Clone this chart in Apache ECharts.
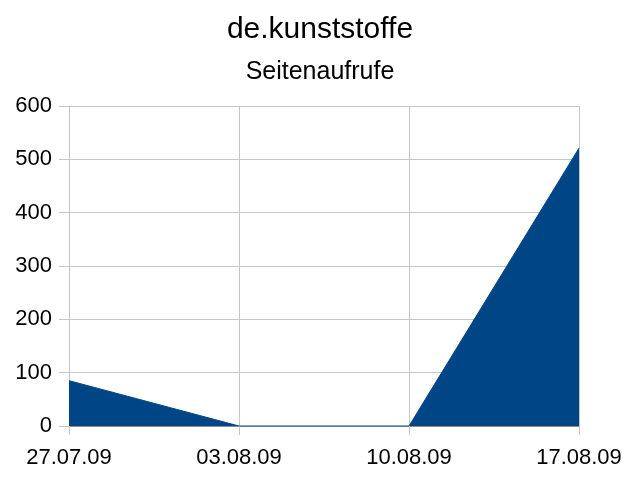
<!DOCTYPE html>
<html>
<head>
<meta charset="utf-8">
<script src="https://cdn.jsdelivr.net/npm/echarts@6/dist/echarts.min.js"></script>
<style>
  html, body { margin: 0; padding: 0; background: #fff; }
  #chart { width: 640px; height: 480px; }
</style>
</head>
<body>
<div id="chart"></div>
<script>
// weekly page views
const weeks = ['27.07.09', '03.08.09', '10.08.09', '17.08.09'];
const views = [85, 0, 0, 521];
const yTicks = { min: 0, max: 600, interval: 100 };

const fontFamily = 'Liberation Sans';
const gridColor = '#c6c6c6';
const fillColor = '#004586';

const chart = echarts.init(document.getElementById('chart'));

chart.setOption({
    animation: false,
    title: [
        {
            text: 'de.kunststoffe',
            left: 'center',
            top: 10,
            textStyle: { fontFamily, fontSize: 30, fontWeight: 'normal', color: '#000' }
        },
        {
            text: 'Seitenaufrufe',
            left: 'center',
            top: 55,
            textStyle: { fontFamily, fontSize: 25, fontWeight: 'normal', color: '#000' }
        }
    ],
    grid: {
        left: 69,
        right: 61,
        top: 106,
        bottom: 54
    },
    xAxis: {
        type: 'category',
        boundaryGap: false,
        data: weeks,
        axisLine: { lineStyle: { color: '#8c8c8c', width: 1 } },
        axisTick: { show: true, length: 9, lineStyle: { color: gridColor } },
        axisLabel: { fontFamily, fontSize: 22, color: '#000', margin: 21 },
        splitLine: { show: true, lineStyle: { color: gridColor } }
    },
    yAxis: {
        type: 'value',
        min: yTicks.min,
        max: yTicks.max,
        interval: yTicks.interval,
        axisLine: { show: true, lineStyle: { color: gridColor } },
        axisTick: { show: true, length: 10, lineStyle: { color: gridColor } },
        axisLabel: { fontFamily, fontSize: 22, color: '#000', margin: 17 },
        splitLine: { show: true, lineStyle: { color: gridColor } }
    },
    series: [{
        type: 'line',
        data: views,
        symbol: 'none',
        lineStyle: { color: fillColor, width: 1 },
        areaStyle: { color: fillColor, opacity: 1 }
    }]
});
</script>
</body>
</html>
